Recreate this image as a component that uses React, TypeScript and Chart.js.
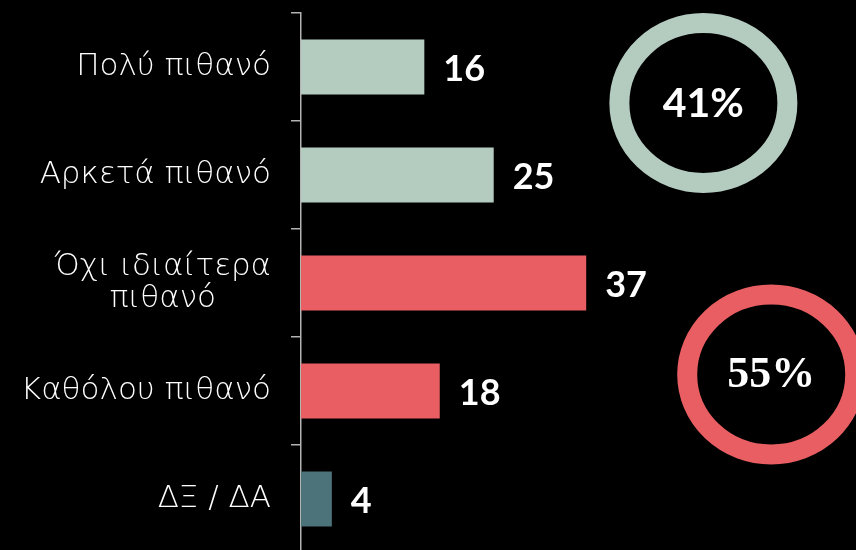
import React, { useEffect, useRef } from "react";
import { Chart, registerables } from "chart.js";

Chart.register(...registerables);

const categories: (string | string[])[] = [
  "Πολύ πιθανό",
  "Αρκετά πιθανό",
  ["Όχι ιδιαίτερα", "πιθανό"],
  "Καθόλου πιθανό",
  "ΔΞ / ΔΑ",
];
const values = [16, 25, 37, 18, 4];
const SAGE = "#b4cbc0";
const RED = "#e95e62";
const TEAL = "#4b7379";
const barColors = [SAGE, SAGE, RED, RED, TEAL];

// Group totals shown in the rings
const groupTotals = [41, 55];
const ringXs = [52.2, 61.0];
const ringYs = [0.333, 2.847];
const ringColors = [SAGE, RED];
const ringFonts = ["bold 41px Lato", "bold 44px 'Liberation Serif'"];

const AXIS = "#b3b3b3";

const customPlugin = {
  id: "custom",
  afterDatasetsDraw(chart: any) {
    const { ctx } = chart;
    const x = chart.scales.x;
    const y = chart.scales.y;
    const meta = chart.getDatasetMeta(0);
    ctx.save();
    // value labels
    ctx.fillStyle = "#ffffff";
    ctx.font = "bold 36px Lato";
    ctx.textAlign = "left";
    ctx.textBaseline = "middle";
    meta.data.forEach((bar: any, i: number) => {
      ctx.fillText(String(values[i]), bar.x + 19, bar.y + 2);
    });
    // category labels
    ctx.font = "200 31px 'DejaVu Sans'";
    ctx.fillStyle = "#ffffff";
    const rightEdge = x.left - 30;
    categories.forEach((c, i) => {
      const lines = Array.isArray(c) ? c : [c];
      const cy = y.getPixelForValue(i);
      const lh = 32;
      const widths = lines.map((l) => ctx.measureText(l).width);
      const wmax = Math.max(...widths);
      const center = rightEdge - wmax / 2;
      lines.forEach((l, j) => {
        const ly = cy + (j - (lines.length - 1) / 2) * lh;
        ctx.textAlign = "center";
        ctx.fillText(l, center, ly);
      });
    });
    // rings
    groupTotals.forEach((t, i) => {
      const cx = x.getPixelForValue(ringXs[i]);
      const cy = y.getPixelForValue(ringYs[i]);
      ctx.beginPath();
      ctx.ellipse(cx, cy, 84, 80, 0, 0, Math.PI * 2);
      ctx.strokeStyle = ringColors[i];
      ctx.lineWidth = 20;
      ctx.stroke();
      ctx.fillStyle = "#ffffff";
      ctx.font = ringFonts[i];
      ctx.textAlign = "center";
      ctx.textBaseline = "middle";
      ctx.fillText(t + "%", cx, cy + 1);
    });
    ctx.restore();
  },
};

export default function App() {
  const ref = useRef<HTMLCanvasElement>(null);
  useEffect(() => {
    if (!ref.current) return;
    const chart = new Chart(ref.current, {
      type: "bar",
      data: {
        labels: categories as any,
        datasets: [
          {
            data: values,
            backgroundColor: barColors,
            borderWidth: 0,
            barPercentage: 0.51,
            categoryPercentage: 1,
          },
        ],
      },
      options: {
        indexAxis: "y",
        animation: false,
        responsive: false,
        layout: { padding: { top: 13, right: 0, bottom: 0, left: 0 } },
        plugins: {
          legend: { display: false },
          tooltip: { enabled: false },
        },
        scales: {
          x: { display: false, min: 0, max: 72 },
          y: {
            offset: true,
            grid: {
              display: true,
              offset: true,
              drawOnChartArea: false,
              drawTicks: true,
              tickLength: 10,
              color: AXIS,
              lineWidth: 1.5,
            },
            border: { display: true, color: AXIS, width: 1.5 },
            ticks: { display: false },
            afterFit(scale: any) {
              scale.width = 301;
            },
          },
        },
      },
      plugins: [customPlugin],
    });
    return () => chart.destroy();
  }, []);
  return (
    <div
      style={{
        position: "absolute",
        left: 0,
        top: 0,
        width: 856,
        height: 550,
        overflow: "hidden",
        background: "#000",
      }}
    >
      <canvas ref={ref} width={856} height={553} style={{ display: "block" }} />
    </div>
  );
}
